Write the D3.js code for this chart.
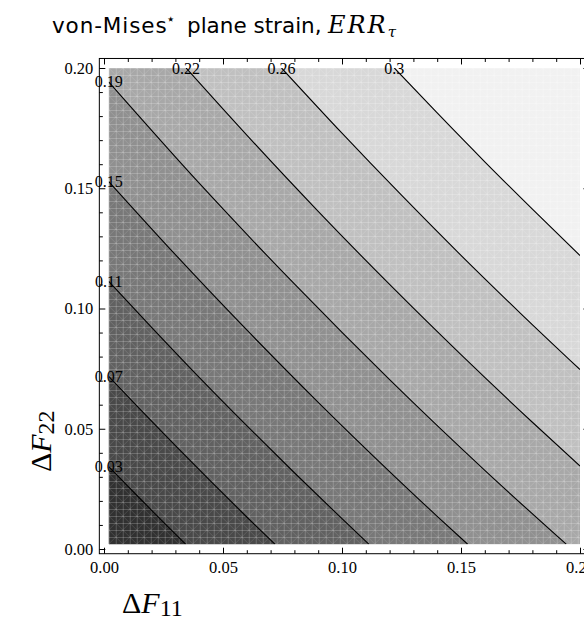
<!DOCTYPE html>
<html>
<head>
<meta charset="utf-8">
<script src="https://cdn.jsdelivr.net/npm/d3@7"></script>
<style>
  body { margin: 0; background: #fff; }
  svg { display: block; }
</style>
</head>
<body>
<div id="chart"></div>
<script>
// page size
var width = 584, height = 623;

// contour labels shown at the start of every line
var levelLabels = ["0.03", "0.07", "0.11", "0.15", "0.19", "0.22", "0.26", "0.3"];

// points, as [ΔF11, ΔF22]
var c003 = [[0.002,0.0343],[0.010,0.0261],[0.018,0.0181],[0.026,0.0101],[0.0343,0.002]];
var c007 = [[0.002,0.0718],[0.015,0.0583],[0.030,0.0430],[0.045,0.0280],[0.060,0.0133],[0.0718,0.002]];
var c011 = [[0.002,0.1113],[0.020,0.0922],[0.040,0.0714],[0.060,0.0513],[0.080,0.0317],[0.100,0.0126],[0.1113,0.002]];
var c015 = [[0.002,0.1528],[0.030,0.1224],[0.060,0.0911],[0.090,0.0610],[0.120,0.0322],[0.140,0.0136],[0.1528,0.002]];
var c019 = [[0.002,0.1942],[0.040,0.1521],[0.080,0.1102],[0.120,0.0704],[0.160,0.0327],[0.1942,0.002]];
var c022 = [[0.0345,0.200],[0.060,0.1721],[0.090,0.1404],[0.120,0.1100],[0.150,0.0808],[0.180,0.0527],[0.200,0.0345]];
var c026 = [[0.0746,0.200],[0.100,0.1729],[0.125,0.1471],[0.150,0.1221],[0.175,0.0980],[0.200,0.0746]];
var c030 = [[0.122,0.200],[0.140,0.1813],[0.160,0.1610],[0.180,0.1413],[0.200,0.1220]];
var contours = [c003, c007, c011, c015, c019, c022, c026, c030];

// band shades, darkest (near the origin) to lightest
var bandGrays = ["#313131", "#494949", "#616161", "#787878", "#909090",
                 "#a8a8a8", "#c0c0c0", "#d8d8d8", "#f1f1f1"];

// sampled region and ticks
var dataMin = 0.002, dataMax = 0.2;
var majorTicks = [0, 0.05, 0.10, 0.15, 0.20];
var minorTicks = d3.range(0, 21).map(function(i) { return i / 100; })
  .filter(function(v) { return Math.round(v * 100) % 5 !== 0; });

var x = d3.scaleLinear().domain([0, 0.2]).range([104, 580]);
var y = d3.scaleLinear().domain([0, 0.2]).range([549, 68]);

// Mathematica style padding around the plot range
var pad = 0.02 * (dataMax - dataMin);
var frameL = x(dataMin - pad), frameR = x(dataMax + pad),
    frameB = y(dataMin - pad), frameT = y(dataMax + pad);

var svg = d3.select("#chart")
  .append("svg")
    .attr("width", width)
    .attr("height", height);

var defs = svg.append("defs");

defs.append("clipPath")
    .attr("id", "plotClip")
  .append("rect")
    .attr("x", x(dataMin))
    .attr("y", y(dataMax))
    .attr("width", x(dataMax) - x(dataMin))
    .attr("height", y(dataMin) - y(dataMax));

// faint mesh texture seen in the rendered shading
var mesh = defs.append("pattern")
    .attr("id", "mesh")
    .attr("patternUnits", "userSpaceOnUse")
    .attr("x", x(dataMin))
    .attr("y", y(dataMax))
    .attr("width", 14)
    .attr("height", 14);
mesh.append("path")
    .attr("d", "M0,0.5H14M0,7.5H14M0.5,0V14M7.5,0V14")
    .attr("stroke", "#fff")
    .attr("stroke-opacity", 0.2)
    .attr("fill", "none");
mesh.append("path")
    .attr("d", "M0,0L14,14M14,0L0,14")
    .attr("stroke", "#fff")
    .attr("stroke-opacity", 0.12)
    .attr("fill", "none");

var plot = svg.append("g").attr("clip-path", "url(#plotClip)");

var line = d3.line()
  .x(function(d) { return x(d[0]); })
  .y(function(d) { return y(d[1]); })
  .curve(d3.curveMonotoneX);

// lightest band fills the whole sampled region
plot.append("rect")
    .attr("x", x(dataMin))
    .attr("y", y(dataMax))
    .attr("width", x(dataMax) - x(dataMin))
    .attr("height", y(dataMin) - y(dataMax))
    .attr("fill", bandGrays[bandGrays.length - 1]);

// paint the region under each contour, from the outer line inwards
for (let i = contours.length - 1; i >= 0; i--) {
  var pts = contours[i];
  var d = line(pts);
  if (pts[0][1] >= dataMax) {
    d += "L" + x(dataMax) + "," + y(dataMin) +
         "L" + x(dataMin) + "," + y(dataMin) +
         "L" + x(dataMin) + "," + y(dataMax);
  } else {
    d += "L" + x(dataMin) + "," + y(dataMin);
  }
  plot.append("path")
      .attr("d", d + "Z")
      .attr("fill", bandGrays[i]);
}

plot.append("rect")
    .attr("x", x(dataMin))
    .attr("y", y(dataMax))
    .attr("width", x(dataMax) - x(dataMin))
    .attr("height", y(dataMin) - y(dataMax))
    .attr("fill", "url(#mesh)");

plot.selectAll(".contour")
  .data(contours)
  .enter()
  .append("path")
    .attr("class", "contour")
    .attr("d", line)
    .attr("fill", "none")
    .attr("stroke", "#000")
    .attr("stroke-width", 1.1);

// frame
svg.append("rect")
    .attr("x", frameL)
    .attr("y", frameT)
    .attr("width", frameR - frameL)
    .attr("height", frameB - frameT)
    .attr("fill", "none")
    .attr("stroke", "#000")
    .attr("stroke-width", 1);

var fmt = d3.format(".2f");
var tickFont = "'Liberation Serif', 'Times New Roman', serif";

function styleAxis(g) {
  g.select(".domain").remove();
  g.selectAll("line").attr("stroke", "#000");
  g.selectAll("text")
    .attr("font-family", tickFont)
    .attr("font-size", "16.5px")
    .attr("fill", "#000");
}

// bottom
svg.append("g")
    .attr("transform", "translate(0," + frameB + ")")
    .call(d3.axisBottom(x).tickValues(majorTicks).tickFormat(fmt)
      .tickSizeInner(-6).tickSizeOuter(0).tickPadding(8))
    .call(styleAxis);
svg.append("g")
    .attr("transform", "translate(0," + frameB + ")")
    .call(d3.axisBottom(x).tickValues(minorTicks).tickFormat("")
      .tickSizeInner(-3.5).tickSizeOuter(0))
    .call(styleAxis);

// left
svg.append("g")
    .attr("transform", "translate(" + frameL + ",0)")
    .call(d3.axisLeft(y).tickValues(majorTicks).tickFormat(fmt)
      .tickSizeInner(-6).tickSizeOuter(0).tickPadding(6))
    .call(styleAxis);
svg.append("g")
    .attr("transform", "translate(" + frameL + ",0)")
    .call(d3.axisLeft(y).tickValues(minorTicks).tickFormat("")
      .tickSizeInner(-3.5).tickSizeOuter(0))
    .call(styleAxis);

// top and right, ticks only
[[majorTicks, -6], [minorTicks, -3.5]].forEach(function(t) {
  svg.append("g")
      .attr("transform", "translate(0," + frameT + ")")
      .call(d3.axisTop(x).tickValues(t[0]).tickFormat("")
        .tickSizeInner(t[1]).tickSizeOuter(0))
      .call(styleAxis);
  svg.append("g")
      .attr("transform", "translate(" + frameR + ",0)")
      .call(d3.axisRight(y).tickValues(t[0]).tickFormat("")
        .tickSizeInner(t[1]).tickSizeOuter(0))
      .call(styleAxis);
});

// contour labels at the start of each line
svg.selectAll(".clabel")
  .data(contours)
  .enter()
  .append("text")
    .attr("class", "clabel")
    .attr("x", function(d) { return x(d[0][0]); })
    .attr("y", function(d) { return y(d[0][1]) + 5.5; })
    .attr("text-anchor", "middle")
    .attr("font-family", tickFont)
    .attr("font-size", "16px")
    .attr("fill", "#000")
    .text(function(d, i) { return levelLabels[i]; });

// axis titles
var xt = svg.append("text")
    .attr("x", 122)
    .attr("y", 613)
    .attr("font-family", tickFont)
    .attr("font-size", "30px")
    .attr("fill", "#000");
xt.append("tspan").text("Δ");
xt.append("tspan").attr("font-style", "italic").text("F");
xt.append("tspan").attr("font-size", "24px").attr("dy", 3).text("11");

var yt = svg.append("text")
    .attr("transform", "translate(51,472) rotate(-90)")
    .attr("font-family", tickFont)
    .attr("font-size", "30px")
    .attr("fill", "#000");
yt.append("tspan").text("Δ");
yt.append("tspan").attr("font-style", "italic").text("F");
yt.append("tspan").attr("font-size", "24px").attr("dy", 3).text("22");

// title
var sans = "'DejaVu Sans', 'Noto Sans', sans-serif";
var mathFont = "'DejaVu Serif', 'Liberation Serif', serif";
var title = svg.append("text")
    .attr("y", 33)
    .attr("fill", "#000");
title.append("tspan").attr("x", 52).attr("font-family", sans)
    .attr("font-size", "21.5px").attr("letter-spacing", "0.9px").text("von-Mises");
title.append("tspan").attr("x", 166).attr("dy", -9).attr("font-family", sans)
    .attr("font-size", "15px").text("⋆");
title.append("tspan").attr("x", 187).attr("dy", 9).attr("font-family", sans)
    .attr("font-size", "21.5px").text("plane strain,");
title.append("tspan").attr("x", 328).attr("font-family", mathFont)
    .attr("font-style", "italic").attr("font-size", "24px")
    .attr("letter-spacing", "2px").text("ERR");
title.append("tspan").attr("dy", 4).attr("font-family", mathFont)
    .attr("font-style", "italic").attr("font-size", "15px").text("τ");
</script>
</body>
</html>
